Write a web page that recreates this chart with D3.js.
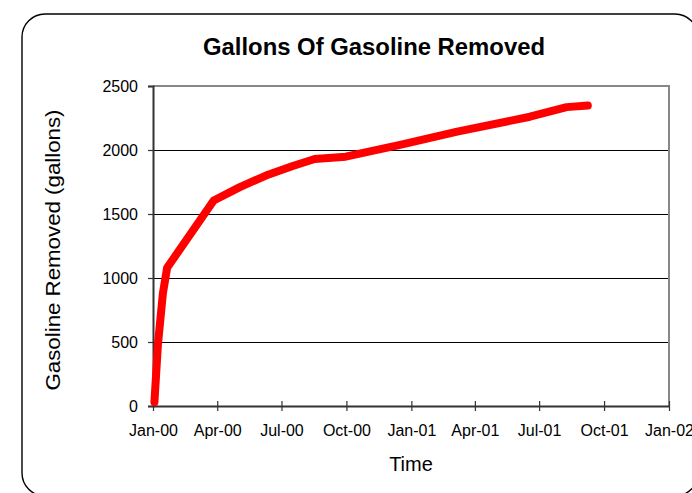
<!DOCTYPE html>
<html>
<head>
<meta charset="utf-8">
<script src="https://cdn.jsdelivr.net/npm/d3@7"></script>
<style>
  body { margin: 0; background: #fff; }
  text { font-family: Arial, "Liberation Sans", sans-serif; fill: #000; }
</style>
</head>
<body>
<div id="chart"></div>
<script>
// readings
const sampleDates = ['2000-01-03', '2000-01-08', '2000-01-15', '2000-01-21', '2000-03-27', '2000-05-03',
  '2000-06-09', '2000-07-17', '2000-08-17', '2000-09-30', '2000-12-16', '2001-03-07',
  '2001-06-18', '2001-08-09', '2001-09-08'];
const gallonsRemoved = [30, 480, 880, 1080, 1605, 1710, 1800, 1875, 1930, 1948, 2040, 2143, 2260, 2335, 2348];
const yTicks = [0, 500, 1000, 1500, 2000, 2500];

const width = 692;
const height = 493;
const margin = { top: 86, right: 23, bottom: 87, left: 153 };
const plotW = width - margin.left - margin.right;
const plotH = height - margin.top - margin.bottom;

const parse = d3.timeParse('%Y-%m-%d');
const data = sampleDates.map((d, i) => ({ date: parse(d), value: gallonsRemoved[i] }));

const svg = d3.select('#chart')
  .append('svg')
  .attr('width', width)
  .attr('height', height);

// outer frame (runs off the right and bottom edges)
svg.append('rect')
  .attr('x', 22)
  .attr('y', 14)
  .attr('width', 676)
  .attr('height', 482)
  .attr('rx', 23)
  .attr('fill', 'none')
  .attr('stroke', '#000')
  .attr('stroke-width', 1.4);

const g = svg.append('g')
  .attr('transform', `translate(${margin.left},${margin.top})`);

const x = d3.scaleTime()
  .domain([new Date(2000, 0, 1), new Date(2002, 0, 1)])
  .range([0, plotW]);

const y = d3.scaleLinear()
  .domain([0, 2500])
  .range([plotH, 0]);

// gridlines
g.selectAll('.grid')
  .data(yTicks.slice(1, -1))
  .enter()
  .append('line')
  .attr('x1', 0)
  .attr('x2', plotW)
  .attr('y1', (d) => y(d) + 0.5)
  .attr('y2', (d) => y(d) + 0.5)
  .attr('stroke', '#000')
  .attr('stroke-width', 1)
  .attr('shape-rendering', 'crispEdges');

// top + right border (grey)
g.append('path')
  .attr('d', `M0,${y(2500)}H${plotW}V${plotH}`)
  .attr('fill', 'none')
  .attr('stroke', '#888')
  .attr('stroke-width', 2);

// Y-axis
const yAxis = g.append('g')
  .call(d3.axisLeft(y).tickValues(yTicks).tickFormat(d3.format('d')).tickSize(5).tickPadding(10));
yAxis.select('.domain').attr('stroke', '#333').attr('stroke-width', 2);
yAxis.selectAll('.tick line').attr('stroke', '#333').attr('stroke-width', 1.2);
yAxis.selectAll('text').style('font-size', '16px').attr('fill', '#000');

// X-axis, ticks cross the axis line
const xAxis = g.append('g')
  .attr('transform', `translate(0,${plotH})`)
  .call(d3.axisBottom(x)
    .ticks(d3.timeMonth.every(3))
    .tickFormat(d3.timeFormat('%b-%y'))
    .tickSizeInner(5)
    .tickSizeOuter(0)
    .tickPadding(14));
xAxis.select('.domain').attr('stroke', '#333').attr('stroke-width', 2);
xAxis.selectAll('.tick line')
  .attr('y1', -5)
  .attr('y2', 5)
  .attr('stroke', '#333')
  .attr('stroke-width', 1.2);
xAxis.selectAll('text').style('font-size', '16px').attr('fill', '#000');

const line = d3.line()
  .x((d) => x(d.date))
  .y((d) => y(d.value));

g.append('path')
  .datum(data)
  .attr('d', line)
  .attr('fill', 'none')
  .attr('stroke', '#ff0000')
  .attr('stroke-width', 8)
  .attr('stroke-linejoin', 'round')
  .attr('stroke-linecap', 'round');

// titles
svg.append('text')
  .attr('x', 374)
  .attr('y', 55)
  .attr('text-anchor', 'middle')
  .attr('textLength', 342)
  .attr('lengthAdjust', 'spacingAndGlyphs')
  .style('font-size', '23px')
  .style('font-weight', 'bold')
  .text('Gallons Of Gasoline Removed');

svg.append('text')
  .attr('x', 411)
  .attr('y', 471)
  .attr('text-anchor', 'middle')
  .style('font-size', '20px')
  .text('Time');

svg.append('text')
  .attr('transform', 'translate(60,250) rotate(-90)')
  .attr('text-anchor', 'middle')
  .attr('textLength', 281)
  .attr('lengthAdjust', 'spacingAndGlyphs')
  .style('font-size', '20px')
  .text('Gasoline Removed (gallons)');
</script>
</body>
</html>
